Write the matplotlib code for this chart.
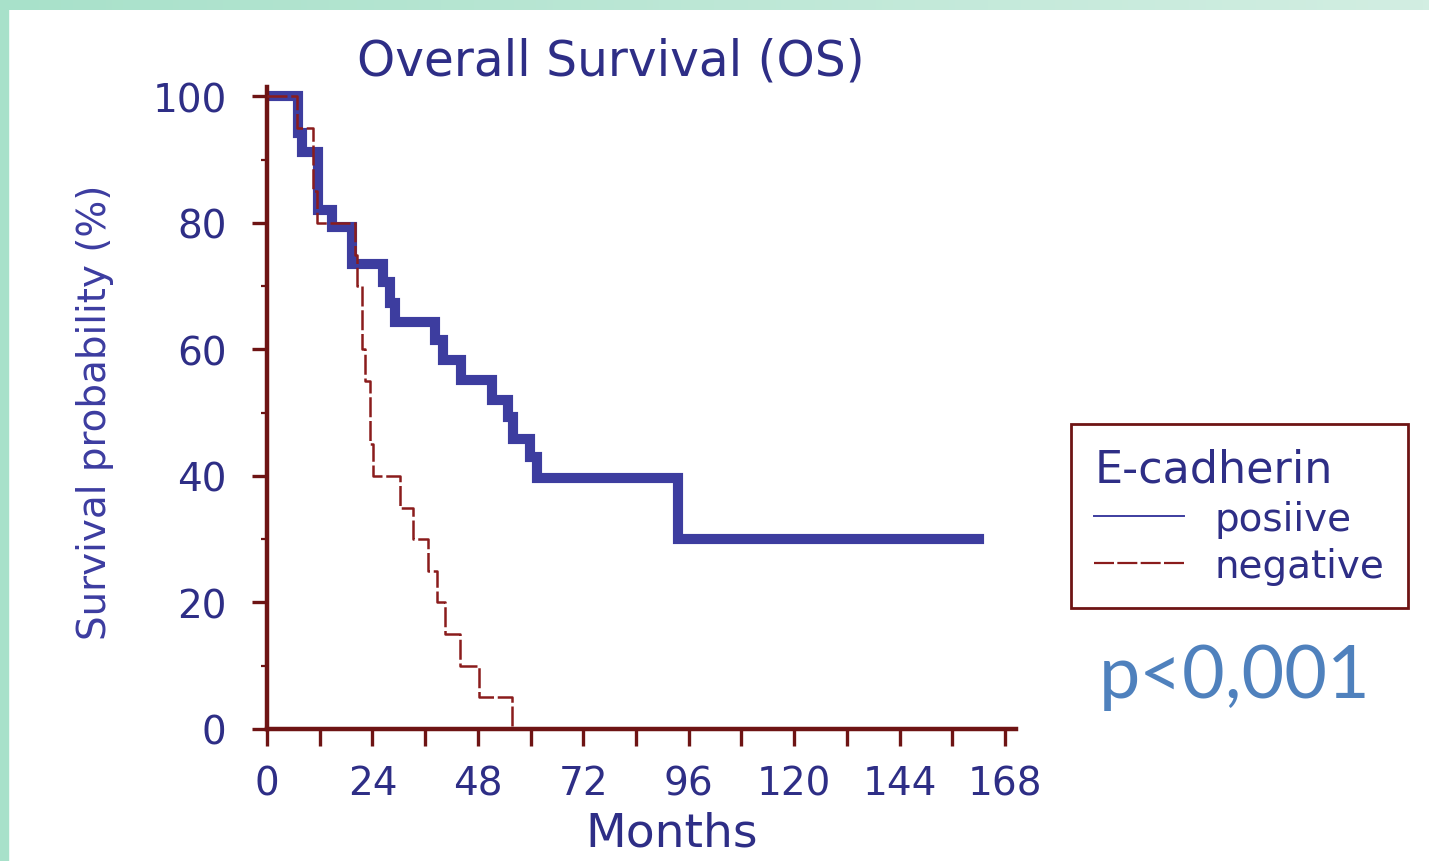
import numpy as np
import matplotlib.pyplot as plt
from matplotlib.lines import Line2D
from matplotlib.patches import Rectangle
from matplotlib.colors import LinearSegmentedColormap
from matplotlib.ticker import MultipleLocator, FuncFormatter

# Kaplan-Meier steps (months, survival %)
pos_time = [0, 7.1, 7.9, 11.7, 14.7, 19.3, 26.3, 28.0, 29.1, 38.2, 40.1, 44.2,
            51.2, 54.8, 55.9, 59.9, 61.4, 93.6, 162.0]
pos_surv = [100, 94.3, 91.2, 82.1, 79.4, 73.5, 70.7, 67.3, 64.4, 61.5, 58.3, 55.2,
            52.0, 49.3, 45.8, 43.0, 39.7, 30.0, 30.0]

neg_time = [0, 6.8, 10.5, 11.3, 20.0, 20.6, 21.6, 22.3, 23.4, 24.2, 30.3, 33.2,
            36.6, 38.7, 40.5, 43.9, 48.3, 55.8]
neg_surv = [100, 95, 85, 80, 75, 70, 60, 55, 45, 40, 35, 30,
            25, 20, 15, 10, 5, 0]

x_ticks = [0, 24, 48, 72, 96, 120, 144, 168]
y_ticks = [0, 20, 40, 60, 80, 100]

W, H = 1429, 862
axis_red = "#6e1414"
navy = "#2e2e86"
blue = "#3d3d9f"
red = "#8a1c1c"

fig = plt.figure(figsize=(W / 100, H / 100), dpi=100)

# green frame strips
grad = np.linspace(0, 1, 256).reshape(1, -1)
cmap = LinearSegmentedColormap.from_list("g", ["#a8e1ca", "#d2eee2"])
bg = fig.add_axes([0, 1 - 11 / H, 1, 11 / H])
bg.imshow(grad, aspect="auto", cmap=cmap)
bg.axis("off")
fig.patches.append(Rectangle((0, 0), 8 / W, 1, transform=fig.transFigure,
                             color="#a8e1ca", zorder=0))

ax = fig.add_axes([267 / W, 132 / H, 749 / W, 642 / H])
ax.step(pos_time, pos_surv, where="post", color=blue, lw=7.3, zorder=2,
        solid_joinstyle="miter")
ax.step(neg_time, neg_surv, where="post", color=red, lw=1.8,
        linestyle=(0, (8, 1.5)), zorder=3)

ax.set_xlim(0, 170.5)
ax.set_ylim(0, 101.5)
for s in ["top", "right"]:
    ax.spines[s].set_visible(False)
for s in ["left", "bottom"]:
    ax.spines[s].set_color(axis_red)
    ax.spines[s].set_linewidth(3.2)

ax.xaxis.set_major_locator(MultipleLocator(12))
ax.xaxis.set_major_formatter(FuncFormatter(
    lambda v, p: f"{int(v)}" if int(round(v)) in x_ticks else ""))
ax.set_yticks(y_ticks)
ax.yaxis.set_minor_locator(MultipleLocator(10))
ax.tick_params(axis="x", direction="out", length=12.5, width=2.4, color=axis_red,
               labelsize=28, labelcolor=navy, pad=13)
ax.tick_params(axis="y", which="major", direction="out", length=11, width=2.4,
               color=axis_red, labelsize=28, labelcolor=navy, pad=18)
ax.tick_params(axis="y", which="minor", direction="out", length=4.5, width=1.6,
               color=axis_red)

fig.text(611 / W, 1 - 61 / H, "Overall Survival (OS)", ha="center", va="center",
         fontsize=35, color=navy)
fig.text(672 / W, 1 - 834 / H, "Months", ha="center", va="center",
         fontsize=34, color=navy)
fig.text(95 / W, 1 - 412 / H, "Survival probability (%)", ha="center",
         va="center", rotation=90, fontsize=28, color="#3c3ca0")

handles = [Line2D([], [], color=blue, lw=1.4),
           Line2D([], [], color=red, lw=1.6, linestyle=(0, (9, 1.5)))]
leg = fig.legend(handles, ["posiive", "negative"], title="E-cadherin",
                 loc="upper left", bbox_to_anchor=(1071 / W, 1 - 425 / H),
                 borderaxespad=0, fontsize=28, title_fontsize=32,
                 alignment="left", handlelength=2.3, handletextpad=0.8,
                 labelspacing=0.24, borderpad=0.6, fancybox=False,
                 framealpha=1)
leg.get_frame().set_edgecolor(axis_red)
leg.get_frame().set_linewidth(2)
leg.get_title().set_color(navy)
for t in leg.get_texts():
    t.set_color(navy)

fig.text(1235 / W, 1 - 678 / H, "p<0,001", ha="center", va="center",
         fontsize=53, color="#4f81bd", family=["Lato", "DejaVu Sans"])

fig.savefig("out.png", dpi=100)
